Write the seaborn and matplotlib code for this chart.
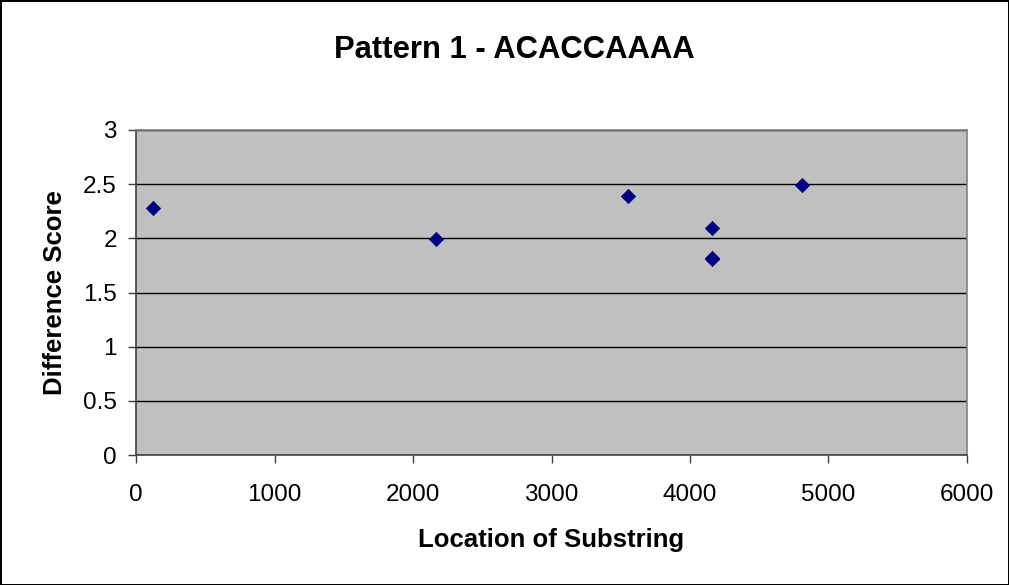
import matplotlib
matplotlib.use("Agg")
import matplotlib.pyplot as plt
import seaborn as sns
import pandas as pd

location = [125, 2164, 3550, 4156, 4156, 4156, 4809]
score = [2.28, 1.99, 2.39, 2.10, 1.82, 1.81, 2.49]
x_ticks = [0, 1000, 2000, 3000, 4000, 5000, 6000]
y_ticks = [0, 0.5, 1, 1.5, 2, 2.5, 3]
y_tick_labels = ["0", "0.5", "1", "1.5", "2", "2.5", "3"]

sns.set_theme(style="ticks")
plt.rcParams['font.family'] = ['Liberation Sans', 'DejaVu Sans']
plt.rcParams['text.color'] = 'black'
plt.rcParams['axes.labelcolor'] = 'black'

df = pd.DataFrame({"Location of Substring": location, "Difference Score": score})

fig = plt.figure(figsize=(10.09, 5.85), dpi=100)
fig.patch.set_facecolor("white")
fig.patch.set_edgecolor("black")
fig.patch.set_linewidth(2)
ax = fig.add_axes([136/1009, 1-455/585, (967-136)/1009, (455-130)/585])
ax.set_facecolor("#C0C0C0")

sns.scatterplot(data=df, x="Location of Substring", y="Difference Score", ax=ax,
                marker="D", color="#000080", edgecolor="#000080", linewidth=0.6,
                s=52, zorder=3)

ax.set_xlim(0, 6000)
ax.set_ylim(0, 3)
ax.set_xticks(x_ticks)
ax.set_yticks(y_ticks)
ax.set_yticklabels(y_tick_labels)
ax.yaxis.grid(True, color="black", linewidth=1)
ax.xaxis.grid(False)
ax.set_axisbelow(True)
for s in ["top", "right"]:
    ax.spines[s].set_visible(True)
    ax.spines[s].set_color("#808080")
    ax.spines[s].set_linewidth(1.2)
for s in ["left", "bottom"]:
    ax.spines[s].set_color("#404040")
    ax.spines[s].set_linewidth(1.2)
ax.tick_params(axis="both", direction="out", length=5.8, width=1, color="#404040",
               labelsize=17.5, labelcolor="black", bottom=True, left=True)
ax.tick_params(axis="x", pad=15)
ax.tick_params(axis="y", pad=8)
ax.set_xlabel("Location of Substring", fontsize=18.5, fontweight="bold", color="black")
ax.set_ylabel("Difference Score", fontsize=18.5, fontweight="bold", color="black")
ax.xaxis.set_label_coords(0.5, -(528 - 455) / 325)
ax.yaxis.set_label_coords(-(136 - 67) / 831, 0.5)
fig.text(514.5 / 1009, 1 - 58.3 / 585, "Pattern 1 - ACACCAAAA", fontsize=22.3,
         fontweight="bold", ha="center", va="baseline", color="black")

fig.savefig("out.png", dpi=100, facecolor=fig.get_facecolor(), edgecolor=fig.get_edgecolor())
